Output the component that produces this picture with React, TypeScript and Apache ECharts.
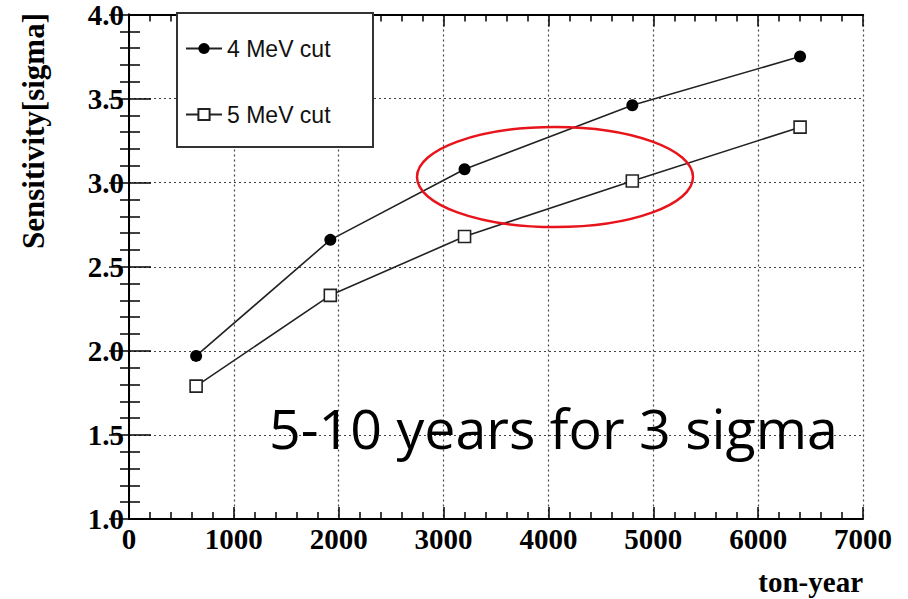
import React, { useEffect, useRef } from "react";
import * as echarts from "echarts";

const tonYears = [640, 1920, 3200, 4800, 6400];
const cut4MeV = [1.97, 2.66, 3.08, 3.46, 3.75];
const cut5MeV = [1.79, 2.33, 2.68, 3.01, 3.33];
const seriesNames = ["4 MeV cut", "5 MeV cut"];
const xTitle = "ton-year";
const yTitle = "Sensitivity[sigma]";
const note = "5-10 years for 3 sigma";

export default function App() {
  const ref = useRef<HTMLDivElement>(null);
  useEffect(() => {
    if (!ref.current) return;
    const chart = echarts.init(ref.current, null, { renderer: "svg" });
    const serif = "Liberation Serif";
    const lblStyle = { fontFamily: serif, fontWeight: "bold" as const, fontSize: 29, color: "#000" };
    const axisLine = { show: true, lineStyle: { color: "#000", width: 2 } };
    const split = { show: true, lineStyle: { color: "#444", type: [2, 3] as any, width: 1.2 } };
    chart.setOption({
      animation: false,
      backgroundColor: "#fff",
      grid: { left: 129, right: 45, top: 13, bottom: 80, containLabel: false },
      legend: {
        data: seriesNames,
        orient: "vertical",
        left: 180,
        top: 32,
        itemWidth: 36,
        itemHeight: 14,
        itemGap: 43,
        z: 20,
        textStyle: { fontFamily: "Liberation Sans", fontSize: 23, color: "#111", padding: [0, 0, 0, 0] },
      },
      xAxis: [
        {
          type: "value",
          min: 0,
          max: 7000,
          interval: 1000,
          position: "bottom",
          axisLine,
          axisTick: { show: true, inside: true, length: 12, lineStyle: { color: "#000", width: 1.5 } },
          minorTick: { show: true, splitNumber: 5, length: 7, lineStyle: { color: "#000", width: 1.5 } },
          axisLabel: { ...lblStyle, margin: 5, formatter: (v: number) => String(v) },
          splitLine: split,
        },
        {
          type: "value",
          min: 0,
          max: 7000,
          interval: 1000,
          position: "top",
          axisLine,
          axisTick: { show: true, inside: true, length: 12, lineStyle: { color: "#000", width: 1.5 } },
          minorTick: { show: true, splitNumber: 5, length: 7, lineStyle: { color: "#000", width: 1.5 } },
          axisLabel: { show: false },
          splitLine: { show: false },
        },
      ],
      yAxis: [
        {
          type: "value",
          min: 1,
          max: 4,
          interval: 0.5,
          position: "left",
          axisLine,
          axisTick: { show: true, inside: true, length: 22, lineStyle: { color: "#000", width: 1.5 } },
          minorTick: { show: true, splitNumber: 5, length: 11, lineStyle: { color: "#000", width: 1.5 } },
          axisLabel: { ...lblStyle, margin: 5, formatter: (v: number) => v.toFixed(1) },
          splitLine: split,
        },
        {
          type: "value",
          min: 1,
          max: 4,
          interval: 0.5,
          position: "right",
          axisLine,
          axisTick: { show: true, inside: true, length: 20, lineStyle: { color: "#000", width: 1.5 } },
          minorTick: { show: true, splitNumber: 5, length: 9, lineStyle: { color: "#000", width: 1.5 } },
          axisLabel: { show: false },
          splitLine: { show: false },
        },
      ],
      series: [
        {
          name: seriesNames[0],
          type: "line",
          data: tonYears.map((x, i) => [x, cut4MeV[i]]),
          symbol: "circle",
          symbolSize: 12,
          itemStyle: { color: "#000" },
          lineStyle: { color: "#222", width: 1.6 },
          z: 5,
        },
        {
          name: seriesNames[1],
          type: "line",
          data: tonYears.map((x, i) => [x, cut5MeV[i]]),
          symbol: "rect",
          symbolSize: 12,
          itemStyle: { color: "#fff", borderColor: "#222", borderWidth: 1.6 },
          lineStyle: { color: "#222", width: 1.6 },
          z: 5,
        },
      ],
      graphic: [
        {
          type: "rect",
          z: 10,
          shape: { x: 177, y: 13, width: 196, height: 134 },
          style: { fill: "#fff", stroke: "#333", lineWidth: 2 },
        },
        {
          type: "ellipse",
          z: 12,
          shape: { cx: 555, cy: 177, rx: 138, ry: 50 },
          style: { fill: "none", stroke: "#e8141b", lineWidth: 2.5 },
        },
        {
          type: "text",
          z: 12,
          x: 269,
          y: 427,
          style: {
            text: note,
            fontFamily: "Open Sans",
            fontSize: 55.5,
            fill: "#000",
            align: "left",
            verticalAlign: "middle",
          },
        },
        {
          type: "text",
          z: 12,
          x: 863,
          y: 582,
          style: {
            text: xTitle,
            fontFamily: serif,
            fontWeight: "bold",
            fontSize: 29,
            fill: "#000",
            align: "right",
            verticalAlign: "middle",
          },
        },
        {
          type: "text",
          z: 12,
          x: 33,
          y: 13,
          rotation: Math.PI / 2,
          style: {
            text: yTitle,
            fontFamily: serif,
            fontWeight: "bold",
            fontSize: 31,
            fill: "#000",
            align: "right",
            verticalAlign: "middle",
          },
        },
      ],
    });
    return () => chart.dispose();
  }, []);
  return (
    <div
      ref={ref}
      style={{ position: "fixed", left: 0, top: 0, width: 908, height: 599 }}
    />
  );
}
